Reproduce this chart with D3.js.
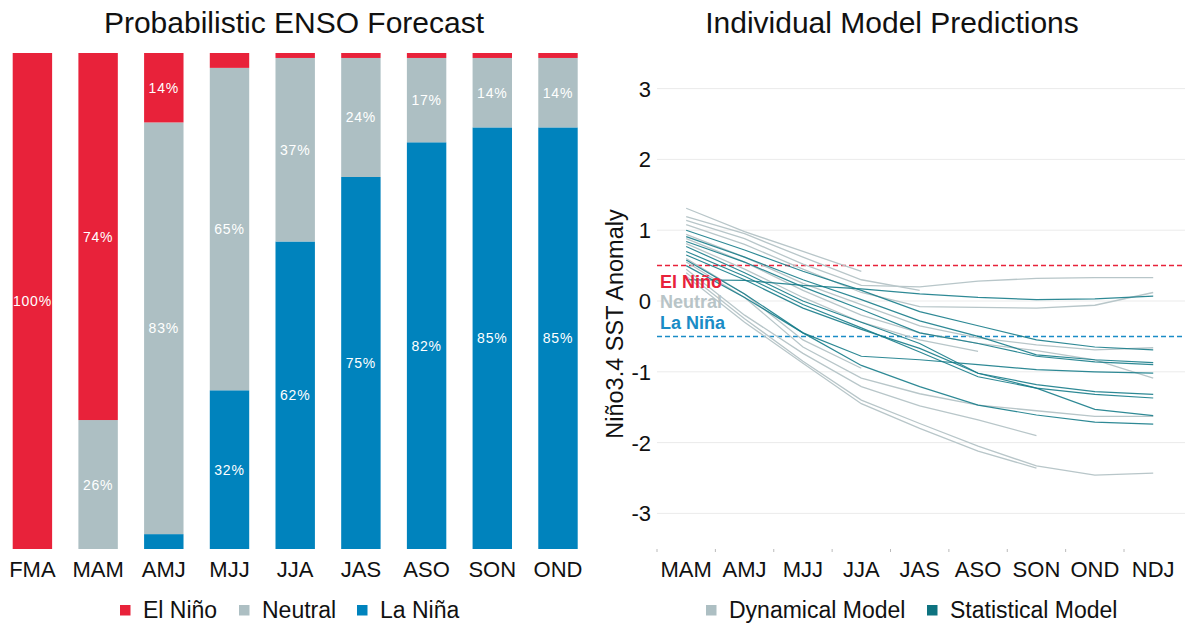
<!DOCTYPE html>
<meta charset="utf-8">
<style>
body { margin: 0; background: #fff; }
text { font-family: "Liberation Sans", Arial, sans-serif; }
</style>
<svg width="1185" height="625"></svg>
<script src="https://cdn.jsdelivr.net/npm/d3@7"></script>
<script>
// left panel data (percent)
var seasonsL = ["FMA", "MAM", "AMJ", "MJJ", "JJA", "JAS", "ASO", "SON", "OND"];
var elNino  = [100, 74, 14, 3, 1, 1, 1, 1, 1];
var neutral = [0, 26, 83, 65, 37, 24, 17, 14, 14];
var laNina  = [0, 0, 3, 32, 62, 75, 82, 85, 85];

// right panel data (Nino3.4 anomaly), null = no forecast
var seasonsR = ["MAM", "AMJ", "MJJ", "JJA", "JAS", "ASO", "SON", "OND", "NDJ"];
var yTicks = [-3, -2, -1, 0, 1, 2, 3];
var dynamical = [
    [1.31, 0.98, 0.70, 0.42, null, null, null, null, null],
    [1.19, 0.95, 0.62, 0.30, 0.15, null, null, null, null],
    [1.14, 0.88, 0.52, 0.22, 0.20, 0.28, 0.32, 0.33, 0.33],
    [1.08, 0.80, 0.45, 0.12, -0.08, -0.09, -0.10, -0.06, 0.12],
    [0.94, 0.62, 0.25, -0.05, -0.35, -0.52, -0.62, -0.69, -0.66],
    [0.88, 0.55, 0.15, -0.20, -0.45, -0.60, -0.70, -0.83, -1.09],
    [0.81, 0.45, 0.05, -0.30, -0.55, -0.71, null, null, null],
    [0.60, 0.10, -0.55, -0.95, null, null, null, null, null],
    [0.55, 0.05, -0.65, -1.09, -1.31, -1.47, -1.55, -1.63, -1.63],
    [0.45, -0.20, -0.74, -1.21, -1.48, -1.68, -1.90, null, null],
    [0.40, -0.25, -0.85, -1.40, -1.73, -2.05, -2.33, -2.46, -2.43],
    [0.35, -0.30, -0.88, -1.45, -1.80, -2.12, -2.36, null, null]
];
var statistical = [
    [1.00, 0.72, 0.42, 0.15, -0.15, -0.35, -0.55, -0.65, -0.69],
    [0.30, 0.29, 0.22, 0.17, 0.10, 0.05, 0.02, 0.03, 0.07],
    [0.91, 0.62, 0.30, 0.02, -0.28, -0.50, -0.76, -0.83, -0.87],
    [0.84, 0.55, 0.20, -0.12, -0.45, -0.60, -0.78, -0.86, -0.90],
    [0.58, 0.10, -0.45, -0.78, -0.83, -0.90, -0.97, -1.00, -1.02],
    [0.77, 0.40, 0.00, -0.30, -0.60, -1.02, -1.23, -1.53, -1.62],
    [0.65, 0.30, -0.10, -0.40, -0.67, -1.02, -1.18, -1.28, -1.32],
    [0.70, 0.35, -0.05, -0.38, -0.72, -1.07, -1.23, -1.32, -1.37],
    [0.50, 0.05, -0.45, -0.91, -1.21, -1.47, -1.61, -1.71, -1.74]
];

var cRed = "#e8223a", cGray = "#adbfc3", cBlue = "#0083bd";
var cDyn = "#b8c6c9", cStat = "#177c89";

var svg = d3.select("svg");

// ---- left: stacked bars ----
var xL = d3.scaleBand().domain(seasonsL).range([12.7, 577.7]).paddingInner(0.4).paddingOuter(0);
var yL = d3.scaleLinear().domain([0, 100]).range([549, 53]);

var rows = seasonsL.map(function(s, i) {
    return {season: s, lanina: laNina[i], neutral: neutral[i], elnino: elNino[i]};
});
var keys = ["lanina", "neutral", "elnino"];
var colL = {lanina: cBlue, neutral: cGray, elnino: cRed};
var stacked = d3.stack().keys(keys)(rows);

var gL = svg.append("g");
var layer = gL.selectAll(".layer").data(stacked).enter().append("g")
    .attr("fill", function(d) { return colL[d.key]; });
layer.selectAll("rect").data(function(d) { return d; }).enter().append("rect")
    .attr("x", function(d) { return xL(d.data.season); })
    .attr("y", function(d) { return yL(d[1]); })
    .attr("width", xL.bandwidth())
    .attr("height", function(d) { return yL(d[0]) - yL(d[1]); });
layer.selectAll("text").data(function(d) { return d.filter(function(e) { return e[1] - e[0] >= 10; }); })
    .enter().append("text")
    .attr("x", function(d) { return xL(d.data.season) + xL.bandwidth() / 2; })
    .attr("y", function(d) { return (yL(d[0]) + yL(d[1])) / 2 + 5; })
    .attr("text-anchor", "middle")
    .attr("fill", "#fff")
    .attr("font-size", 14)
    .attr("letter-spacing", 0.8)
    .text(function(d) { return (d[1] - d[0]) + "%"; });

gL.selectAll(".xl").data(seasonsL).enter().append("text")
    .attr("x", function(d) { return xL(d) + xL.bandwidth() / 2; })
    .attr("y", 577)
    .attr("text-anchor", "middle")
    .attr("font-size", 22)
    .attr("fill", "#111")
    .text(function(d) { return d; });

svg.append("text").attr("x", 294).attr("y", 33).attr("text-anchor", "middle")
    .attr("font-size", 30).attr("fill", "#111").text("Probabilistic ENSO Forecast");

var legL = [["El Niño", cRed, 120], ["Neutral", cGray, 239], ["La Niña", cBlue, 357]];
legL.forEach(function(l) {
    svg.append("rect").attr("x", l[2]).attr("y", 605).attr("width", 10.5).attr("height", 10.5).attr("fill", l[1]);
    svg.append("text").attr("x", l[2] + 23).attr("y", 618).attr("font-size", 23).attr("fill", "#111").text(l[0]);
});

// ---- right: model lines ----
var xR = d3.scaleBand().domain(seasonsR).range([657, 1182.4]);
var yR = d3.scaleLinear().domain([-3, 3]).range([513.4, 88.6]);
var gR = svg.append("g");

gR.selectAll(".grid").data(yTicks).enter().append("line")
    .attr("x1", 657).attr("x2", 1185)
    .attr("y1", function(d) { return yR(d); }).attr("y2", function(d) { return yR(d); })
    .attr("stroke", "#ebebeb").attr("stroke-width", 1);
gR.selectAll(".yl").data(yTicks).enter().append("text")
    .attr("x", 651).attr("y", function(d) { return yR(d) + 8; })
    .attr("text-anchor", "end").attr("font-size", 22).attr("fill", "#111")
    .text(function(d) { return d; });

gR.selectAll(".xt").data(seasonsR).enter().append("line")
    .attr("x1", function(d) { return xR(d); }).attr("x2", function(d) { return xR(d); })
    .attr("y1", 549).attr("y2", 552).attr("stroke", "#bbb");
gR.selectAll(".xl").data(seasonsR).enter().append("text")
    .attr("x", function(d) { return xR(d) + xR.bandwidth() / 2; })
    .attr("y", 577).attr("text-anchor", "middle").attr("font-size", 22).attr("fill", "#111")
    .text(function(d) { return d; });

// thresholds
gR.append("line").attr("x1", 657).attr("x2", 1185).attr("y1", yR(0.5)).attr("y2", yR(0.5))
    .attr("stroke", cRed).attr("stroke-width", 1.5).attr("stroke-dasharray", "5,3");
gR.append("line").attr("x1", 657).attr("x2", 1185).attr("y1", yR(-0.5)).attr("y2", yR(-0.5))
    .attr("stroke", "#1a8cc6").attr("stroke-width", 1.5).attr("stroke-dasharray", "5,3");

var line = d3.line()
    .defined(function(d) { return d != null; })
    .x(function(d, i) { return xR(seasonsR[i]) + xR.bandwidth() / 2; })
    .y(function(d) { return yR(d); });

gR.selectAll(".dyn").data(dynamical).enter().append("path")
    .attr("d", line).attr("fill", "none").attr("stroke", cDyn).attr("stroke-width", 1.3);
gR.selectAll(".stat").data(statistical).enter().append("path")
    .attr("d", line).attr("fill", "none").attr("stroke", cStat).attr("stroke-width", 1.2).attr("opacity", 0.9);

gR.append("text").attr("x", 660).attr("y", 287.5).attr("font-size", 18).attr("font-weight", "bold")
    .attr("fill", cRed).text("El Niño");
gR.append("text").attr("x", 660).attr("y", 308).attr("font-size", 18).attr("font-weight", "bold")
    .attr("fill", "#b8c4c7").text("Neutral");
gR.append("text").attr("x", 660).attr("y", 328.5).attr("font-size", 18).attr("font-weight", "bold")
    .attr("fill", "#1a8cc6").text("La Niña");

svg.append("text").attr("transform", "translate(623,324) rotate(-90)")
    .attr("text-anchor", "middle").attr("font-size", 23.5).attr("fill", "#111")
    .text("Niño3.4 SST Anomaly");

svg.append("text").attr("x", 892).attr("y", 33).attr("text-anchor", "middle")
    .attr("font-size", 30).attr("fill", "#111").text("Individual Model Predictions");

var legR = [["Dynamical Model", cGray, 706], ["Statistical Model", "#0e7380", 927]];
legR.forEach(function(l) {
    svg.append("rect").attr("x", l[2]).attr("y", 605).attr("width", 10.5).attr("height", 10.5).attr("fill", l[1]);
    svg.append("text").attr("x", l[2] + 23).attr("y", 618).attr("font-size", 23).attr("fill", "#111").text(l[0]);
});
</script>
